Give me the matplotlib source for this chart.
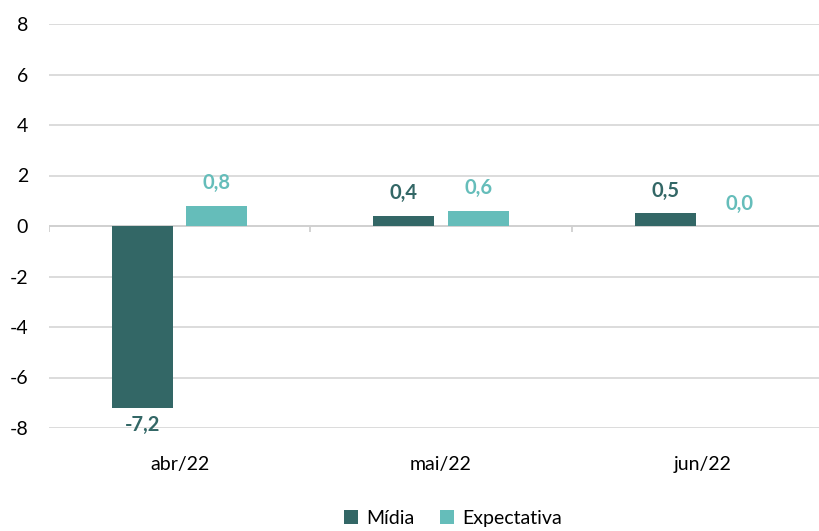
import numpy as np
import matplotlib
matplotlib.use('Agg')
import matplotlib.pyplot as plt

plt.rcParams['font.family'] = ['Lato', 'DejaVu Sans']

categories = ['abr/22', 'mai/22', 'jun/22']
midia = [-7.2, 0.4, 0.5]
expectativa = [0.8, 0.6, 0.0]

c_midia = '#336766'
c_expect = '#65bdba'

fig = plt.figure(figsize=(8.19, 5.31), dpi=100)
# plot area runs past the right edge of the image, as in the original
ax = fig.add_axes([49 / 819, 1 - 428 / 531, 784 / 819, 404 / 531])

x = np.arange(len(categories))
w = 0.234
off = 0.142
b1 = ax.bar(x - off, midia, w, color=c_midia, zorder=3)
b2 = ax.bar(x + off, expectativa, w, color=c_expect, zorder=3)

def fmt(v):
    return f'{v:.1f}'.replace('.', ',')

for xi, v in zip(x - off, midia):
    ax.annotate(fmt(v), (xi, v), xytext=(0, 9 if v >= 0 else -5), textcoords='offset points',
                ha='center', va='bottom' if v >= 0 else 'top', fontsize=14.5,
                fontweight='bold', color=c_midia)
for xi, v in zip(x + off, expectativa):
    ax.annotate(fmt(v), (xi, v), xytext=(0, 9), textcoords='offset points',
                ha='center', va='bottom', fontsize=14.5, fontweight='bold', color=c_expect)

ax.set_xlim(-0.5, 2.5)
ax.set_ylim(-8, 8)
ax.set_yticks(np.arange(-8, 9, 2))
ax.set_yticklabels([str(v) for v in range(-8, 9, 2)])
ax.yaxis.grid(True, color='#d9d9d9', linewidth=1.3, zorder=0)
ax.axhline(0, color='#d0d0d0', linewidth=1.3, zorder=2)
ax.vlines([-0.5, 0.5, 1.5], -0.25, 0, color='#d0d0d0', linewidth=1.3, zorder=2)

ax.set_xticks(x)
ax.set_xticklabels(categories)
ax.tick_params(axis='both', length=0, labelsize=14, colors='#000000')
ax.tick_params(axis='x', pad=20)
ax.tick_params(axis='y', pad=15)
for s in ax.spines.values():
    s.set_visible(False)

fig.legend([b1, b2], ['Mídia', 'Expectativa'], loc='lower center', ncol=2,
           bbox_to_anchor=(0.553, -0.025), frameon=False, fontsize=14,
           handlelength=0.75, handleheight=0.75, handletextpad=0.4, columnspacing=1.3)

fig.savefig('out.png', dpi=100)
